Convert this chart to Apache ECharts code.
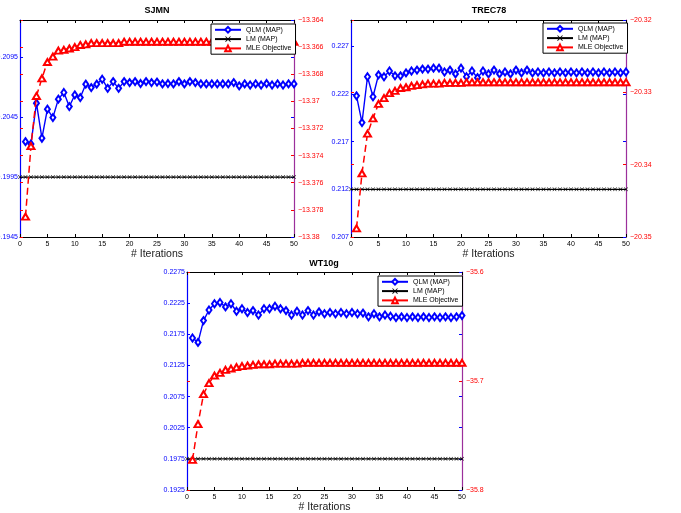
<!DOCTYPE html>
<html>
<head>
<meta charset="utf-8">
<script src="https://cdn.jsdelivr.net/npm/echarts@6/dist/echarts.min.js"></script>
<style>
  html, body { margin: 0; padding: 0; background: #fff; }
  #main { width: 681px; height: 513px; }
</style>
</head>
<body>
<div id="main"></div>
<script>
// iterations shared by QLM / MLE series, LM is drawn from 0
const iterations = [1,2,3,4,5,6,7,8,9,10,11,12,13,14,15,16,17,18,19,20,21,22,23,24,25,
  26,27,28,29,30,31,32,33,34,35,36,37,38,39,40,41,42,43,44,45,46,47,48,49,50];
const lmIterations = [0].concat(iterations);

// SJMN
const qlmSJMN = [0.20245,0.20226,0.20566,0.20274,0.20516,0.20446,0.20600,0.20655,0.20538,0.20635,
  0.20613,0.20725,0.20696,0.20725,0.20766,0.20690,0.20746,0.20690,0.20746,0.20738,
  0.20746,0.20730,0.20746,0.20738,0.20742,0.20727,0.20730,0.20727,0.20746,0.20727,
  0.20746,0.20738,0.20727,0.20727,0.20727,0.20727,0.20727,0.20727,0.20738,0.20710,
  0.20727,0.20718,0.20727,0.20718,0.20730,0.20718,0.20727,0.20718,0.20727,0.20727];
const mleSJMN = [-13.3785,-13.3733,-13.3696,-13.3683,-13.3671,-13.3667,-13.36626,-13.3662,-13.3661,-13.3660,
  -13.36584,-13.3658,-13.3657,-13.3657,-13.3657,-13.3657,-13.3657,-13.3657,-13.3656,-13.3656,
  -13.3656,-13.3656,-13.3656,-13.3656,-13.3656,-13.3656,-13.3656,-13.3656,-13.3656,-13.3656,
  -13.3656,-13.3656,-13.3656,-13.3656,-13.3656,-13.3656,-13.3656,-13.3656,-13.3656,-13.3656,
  -13.3656,-13.3656,-13.3656,-13.3656,-13.3656,-13.3656,-13.3656,-13.3656,-13.3656,-13.3656];
const lmSJMN = [0.1995,0.1995,0.1995,0.1995,0.1995,0.1995,0.1995,0.1995,0.1995,0.1995,0.1995,
  0.1995,0.1995,0.1995,0.1995,0.1995,0.1995,0.1995,0.1995,0.1995,0.1995,
  0.1995,0.1995,0.1995,0.1995,0.1995,0.1995,0.1995,0.1995,0.1995,0.1995,
  0.1995,0.1995,0.1995,0.1995,0.1995,0.1995,0.1995,0.1995,0.1995,0.1995,
  0.1995,0.1995,0.1995,0.1995,0.1995,0.1995,0.1995,0.1995,0.1995,0.1995];

// TREC78
const qlmTREC = [0.2218,0.2190,0.2238,0.2217,0.2240,0.2238,0.2244,0.2239,0.2239,0.2242,
  0.2244,0.2245,0.2246,0.2246,0.2247,0.2247,0.2243,0.2245,0.2241,0.2247,
  0.2238,0.2244,0.2237,0.2244,0.2241,0.2245,0.2241,0.2243,0.2241,0.2245,
  0.2242,0.2245,0.2242,0.2243,0.2242,0.2243,0.2242,0.2243,0.2242,0.2243,
  0.2242,0.2243,0.2242,0.2243,0.2242,0.2243,0.2242,0.2243,0.2242,0.2243];
const mleTREC = [-20.3488,-20.3412,-20.3357,-20.3336,-20.3316,-20.3308,-20.3301,-20.3298,-20.3294,-20.3293,
  -20.3291,-20.3290,-20.3289,-20.3288,-20.3288,-20.3288,-20.3287,-20.3287,-20.3287,-20.3287,
  -20.3286,-20.3286,-20.3286,-20.3286,-20.3286,-20.3286,-20.3286,-20.3286,-20.3286,-20.3286,
  -20.3286,-20.3286,-20.3286,-20.3286,-20.3286,-20.3286,-20.3286,-20.3286,-20.3286,-20.3286,
  -20.3286,-20.3286,-20.3286,-20.3286,-20.3286,-20.3286,-20.3286,-20.3286,-20.3286,-20.3286];
const lmTREC = [0.2120,0.2120,0.2120,0.2120,0.2120,0.2120,0.2120,0.2120,0.2120,0.2120,0.2120,
  0.2120,0.2120,0.2120,0.2120,0.2120,0.2120,0.2120,0.2120,0.2120,0.2120,
  0.2120,0.2120,0.2120,0.2120,0.2120,0.2120,0.2120,0.2120,0.2120,0.2120,
  0.2120,0.2120,0.2120,0.2120,0.2120,0.2120,0.2120,0.2120,0.2120,0.2120,
  0.2120,0.2120,0.2120,0.2120,0.2120,0.2120,0.2120,0.2120,0.2120,0.2120];

// WT10g
const qlmWT = [0.2169,0.2162,0.2197,0.2214,0.2224,0.2226,0.2219,0.2224,0.2212,0.2216,
  0.2210,0.2213,0.2206,0.2216,0.2216,0.2220,0.2216,0.2213,0.2206,0.2212,
  0.2206,0.2213,0.2206,0.2211,0.2208,0.2210,0.2208,0.2210,0.2208,0.2210,
  0.2208,0.2209,0.2203,0.2208,0.2203,0.2206,0.2204,0.2202,0.2203,0.2202,
  0.2203,0.2202,0.2203,0.2202,0.2203,0.2202,0.2203,0.2202,0.2203,0.2205];
const mleWT = [-35.7724,-35.7396,-35.7121,-35.7020,-35.6950,-35.6925,-35.6898,-35.6886,-35.6873,-35.6864,
  -35.6858,-35.6852,-35.6846,-35.6846,-35.6846,-35.6840,-35.6840,-35.6840,-35.6840,-35.6840,
  -35.6833,-35.6833,-35.6833,-35.6833,-35.6833,-35.6833,-35.6833,-35.6833,-35.6833,-35.6833,
  -35.6833,-35.6833,-35.6833,-35.6833,-35.6833,-35.6833,-35.6833,-35.6833,-35.6833,-35.6833,
  -35.6833,-35.6833,-35.6833,-35.6833,-35.6833,-35.6833,-35.6833,-35.6833,-35.6833,-35.6833];
const lmWT = [0.1975,0.1975,0.1975,0.1975,0.1975,0.1975,0.1975,0.1975,0.1975,0.1975,0.1975,
  0.1975,0.1975,0.1975,0.1975,0.1975,0.1975,0.1975,0.1975,0.1975,0.1975,
  0.1975,0.1975,0.1975,0.1975,0.1975,0.1975,0.1975,0.1975,0.1975,0.1975,
  0.1975,0.1975,0.1975,0.1975,0.1975,0.1975,0.1975,0.1975,0.1975,0.1975,
  0.1975,0.1975,0.1975,0.1975,0.1975,0.1975,0.1975,0.1975,0.1975,0.1975];

const titles = ['SJMN', 'TREC78', 'WT10g'];
const seriesNames = ['QLM (MAP)', 'LM (MAP)', 'MLE Objective'];

const FONT = '"Liberation Sans", Arial, sans-serif';
const BLUE = '#0000ff';
const RED = '#ff0000';
const PURPLE = '#9b2f9b';
const X_MARK = 'path://M0,1L1,0L5,4L9,0L10,1L6,5L10,9L9,10L5,6L1,10L0,9L4,5Z';

// panel layout + axis ranges
const panels = [
  { left: 20, top: 20, width: 274, height: 217, legend: [211, 24],
    yl: [0.1945, 0.2126, 0.005], yr: [-13.38, -13.364, 0.002],
    qlm: qlmSJMN, lm: lmSJMN, mle: mleSJMN },
  { left: 351, top: 20, width: 275, height: 217, legend: [543, 23],
    yl: [0.207, 0.22975, 0.005], yr: [-20.35, -20.32, 0.01],
    qlm: qlmTREC, lm: lmTREC, mle: mleTREC },
  { left: 187, top: 272, width: 275, height: 218, legend: [378, 276],
    yl: [0.1925, 0.2275, 0.005], yr: [-35.8, -35.6, 0.1],
    qlm: qlmWT, lm: lmWT, mle: mleWT }
];

const minus = v => String(v).replace('-', '\u2212');

const grid = [], xAxis = [], yAxis = [], series = [], legend = [], graphic = [];

panels.forEach((p, g) => {
  grid.push({ left: p.left, top: p.top, width: p.width, height: p.height, outerBoundsMode: 'none' });

  const xBase = {
    gridIndex: g, type: 'value', min: 0, max: 50, interval: 5,
    axisLine: { onZero: false, lineStyle: { color: '#000', width: 1 } },
    axisTick: { inside: true, length: 3, lineStyle: { color: '#000' } },
    splitLine: { show: false }
  };
  xAxis.push(Object.assign({}, xBase, {
    position: 'bottom',
    axisLabel: { fontSize: 7, color: '#000', margin: 4, fontFamily: FONT },
    name: '# Iterations', nameLocation: 'middle', nameGap: 12,
    nameTextStyle: { fontSize: 10.5, color: '#222', fontFamily: FONT }
  }));
  xAxis.push(Object.assign({}, xBase, { position: 'top', axisLabel: { show: false } }));

  const yLeft = { min: p.yl[0], max: p.yl[1], interval: p.yl[2] };
  const yRight = { min: p.yr[0], max: p.yr[1], interval: p.yr[2] };
  // index g*4: left scale, g*4+1: right scale
  yAxis.push(Object.assign({
    gridIndex: g, type: 'value', position: 'left',
    axisLine: { show: true, onZero: false, lineStyle: { color: BLUE, width: 1.2 } },
    axisTick: { show: true, inside: true, length: 3, lineStyle: { color: BLUE } },
    axisLabel: { fontSize: 7, color: BLUE, margin: 2, fontFamily: FONT, showMaxLabel: p.yl[1] === 0.2275 },
    splitLine: { show: false }
  }, yLeft));
  yAxis.push(Object.assign({
    gridIndex: g, type: 'value', position: 'right',
    axisLine: { show: true, onZero: false, lineStyle: { color: PURPLE, width: 1.2 } },
    axisTick: { show: true, inside: true, length: 3, lineStyle: { color: RED } },
    axisLabel: { fontSize: 7, color: RED, margin: 4, fontFamily: FONT, formatter: minus },
    splitLine: { show: false }
  }, yRight));
  // mirrored ticks on the opposite sides (no labels)
  yAxis.push(Object.assign({
    gridIndex: g, type: 'value', position: 'right',
    axisLine: { show: false, onZero: false },
    axisTick: { show: true, inside: true, length: 3, lineStyle: { color: BLUE } },
    axisLabel: { show: false }, splitLine: { show: false }
  }, yLeft));
  yAxis.push(Object.assign({
    gridIndex: g, type: 'value', position: 'left',
    axisLine: { show: false, onZero: false },
    axisTick: { show: true, inside: true, length: 3, lineStyle: { color: RED } },
    axisLabel: { show: false }, splitLine: { show: false }
  }, yRight));

  series.push({
    name: seriesNames[1], type: 'line', xAxisIndex: g * 2, yAxisIndex: g * 4,
    data: lmIterations.map((x, k) => [x, p.lm[k]]),
    symbol: X_MARK, symbolSize: 4, showAllSymbol: true,
    lineStyle: { color: '#000', width: 1.2 },
    itemStyle: { color: '#000' }, z: 2
  });
  series.push({
    name: seriesNames[0], type: 'line', xAxisIndex: g * 2, yAxisIndex: g * 4,
    data: iterations.map((x, k) => [x, p.qlm[k]]),
    symbol: 'emptyDiamond', symbolSize: [5, 7], showAllSymbol: true,
    lineStyle: { color: BLUE, width: 1.4 },
    itemStyle: { color: BLUE, borderWidth: 1.2 }, z: 3
  });
  series.push({
    name: seriesNames[2], type: 'line', xAxisIndex: g * 2, yAxisIndex: g * 4 + 1,
    data: iterations.map((x, k) => [x, p.mle[k]]),
    symbol: 'emptyTriangle', symbolSize: [7, 6], showAllSymbol: true,
    lineStyle: { color: RED, width: 1.5, type: [7, 4] },
    itemStyle: { color: RED, borderWidth: 1.2 }, z: 4
  });

  legend.push({
    left: p.legend[0], top: p.legend[1], orient: 'vertical',
    data: seriesNames.slice(),
    backgroundColor: '#fff', borderColor: '#000', borderWidth: 1, borderRadius: 0,
    padding: [2, 4, 2, 3], itemGap: 2, itemWidth: 26, itemHeight: 7,
    textStyle: { fontSize: 7, color: '#000', fontFamily: FONT },
    lineStyle: { type: 'solid' },
    selectedMode: false, z: 10
  });
});

graphic.push(
  { type: 'text', x: 157, y: 11, style: { text: titles[0], font: 'bold 9px ' + FONT, fill: '#000', textAlign: 'center', textVerticalAlign: 'middle' } },
  { type: 'text', x: 489, y: 11, style: { text: titles[1], font: 'bold 9px ' + FONT, fill: '#000', textAlign: 'center', textVerticalAlign: 'middle' } },
  { type: 'text', x: 324, y: 264, style: { text: titles[2], font: 'bold 9px ' + FONT, fill: '#000', textAlign: 'center', textVerticalAlign: 'middle' } }
);

const chart = echarts.init(document.getElementById('main'), null, { renderer: 'canvas' });
chart.setOption({
  animation: false,
  backgroundColor: '#fff',
  grid, xAxis, yAxis, series, legend, graphic
});
</script>
</body>
</html>
